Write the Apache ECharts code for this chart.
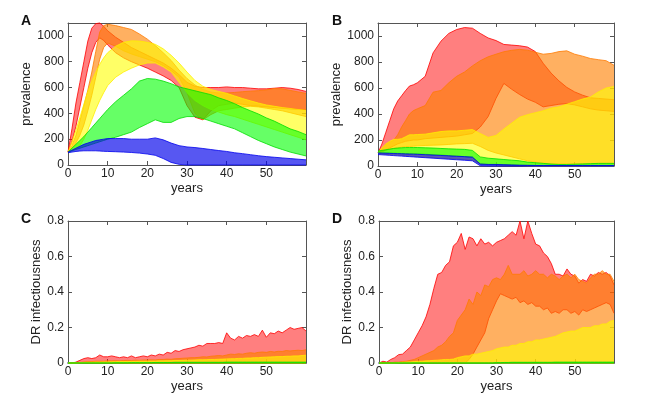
<!DOCTYPE html>
<html>
<head>
<meta charset="utf-8">
<title>prevalence and DR infectiousness</title>
<script src="https://cdn.jsdelivr.net/npm/echarts@6/dist/echarts.min.js"></script>
<style>body{margin:0;background:#fff}</style>
</head>
<body>
<div id="main" style="width:650px;height:398px;"></div>
<script>
// years used by panels A and B (finer at the start)
var yearsAB = [0,1,2,3,4,5,6,7,8,9,10, 12,14,16,18,20,22,24,26,28,30, 32,34,36,38,40, 42,44,46,48,50, 52,54,56,58,60];
// years used by panels C and D
var yearsCD = [];
for (var y = 0; y <= 60; y++) yearsCD.push(y);

// ---- panel A: prevalence bands (low / high)
var aRedHi = [100,280,480,640,800,960,1060,1095,1100,1075,1040, 990,950,910,880,850,820,790,750,700,640, 610,600,600,600,605, 600,600,595,590,590, 595,600,595,585,570];
var aRedLo = [100,180,300,450,600,750,870,950,985,965,930, 870,830,800,775,750,720,690,655,600,460, 370,350,420,460,470, 480,470,460,455,450, 445,440,435,430,430];
var aOrangeHi = [100,150,230,340,460,580,720,880,1030,1080,1090, 1080,1065,1050,1015,975,925,870,810,735,670, 620,585,565,558,558, 562,568,572,576,582, 592,590,578,566,555];
var aOrangeLo = [100,130,170,230,310,420,540,680,820,910,945, 920,885,860,840,820,800,770,730,680,560, 400,350,390,420,430, 440,450,455,450,440, 430,420,405,390,375];
var aYellowHi = [100,180,270,370,470,570,650,720,780,830,870, 920,950,962,960,950,935,900,850,790,720, 655,610,585,570,555, 535,515,497,480,465, 455,445,438,430,425];
var aYellowLo = [100,115,130,150,200,270,350,430,500,560,615, 680,720,750,775,790,790,760,720,640,560, 500,460,430,410,390, 375,355,335,315,295, 275,255,235,215,195];
var aGreenHi = [100,130,160,190,220,255,290,325,360,395,430, 490,540,590,650,670,665,650,630,605,590, 575,560,545,520,500, 475,445,420,395,365, 340,310,280,260,235];
var aGreenLo = [100,110,120,130,140,150,160,170,180,190,200, 215,235,255,290,320,350,330,330,360,375, 375,360,340,320,300, 280,250,220,190,165, 140,120,100,85,70];
var aBlueHi = [100,115,130,145,160,170,180,190,195,200,205, 205,205,200,200,200,210,195,170,150,140, 135,128,120,112,105, 95,88,80,72,65, 60,55,50,45,40];
var aBlueLo = [95,100,105,108,110,110,110,110,108,106,105, 103,100,97,92,85,75,50,20,5,0, 0,0,0,0,0, 0,0,0,0,0, 0,0,0,0,0];

// ---- panel B
var bRedHi = [100,170,260,350,440,500,540,580,615,625,640, 690,870,960,1020,1050,1065,1060,1020,985,965, 935,930,925,915,880, 790,715,655,605,570, 545,525,520,515,510];
var bRedLo = [100,110,125,140,155,170,180,190,195,200,200, 210,215,220,225,230,240,250,300,380,520, 635,590,550,515,490, 455,465,475,480,470, 455,440,430,425,420];
var bOrangeHi = [100,130,168,185,199,240,300,349,400,426,440, 465,568,581,640,690,723,770,810,840,860, 879,890,897,891,875, 860,866,880,886,860, 845,827,818,810,775];
var bOrangeLo = [100,110,120,130,135,140,145,150,150,152,155, 158,160,162,166,170,172,175,150,120,100, 85,70,55,40,30, 22,16,15,15,15, 16,18,20,20,20];
var bYellowHi = [100,140,170,190,205,205,210,225,240,240,242, 245,255,265,270,270,275,280,250,220,235, 285,330,375,395,410, 425,445,455,475,495, 515,530,570,600,612];
var bYellowLo = [95,92,90,88,86,84,82,80,78,76,74, 70,66,62,58,54,50,45,15,10,8, 6,5,4,3,2, 2,2,2,2,2, 2,2,2,2,2];
var bGreenHi = [115,120,125,130,135,138,140,142,142,142,142, 140,138,135,132,130,128,120,70,60,55, 50,45,40,30,25, 20,15,12,12,14, 16,18,20,20,20];
var bGreenLo = [100,100,100,99,98,97,96,95,94,93,92, 90,87,84,80,76,72,68,15,12,12, 10,8,6,5,4, 4,4,4,4,4, 4,4,4,4,4];
var bBlueHi = [100,99,98,97,96,95,94,93,92,91,90, 87,84,81,78,75,72,68,15,12,12, 10,8,6,5,4, 4,4,4,4,4, 4,4,4,4,4];
var bBlueLo = [88,86,84,82,80,78,76,74,72,70,68, 64,60,56,52,48,44,40,2,0,0, 0,0,0,0,0, 0,0,0,0,0, 0,0,0,0,0];

// ---- panel C: DR infectiousness
var cRedHi = [0,0,0.005,0.015,0.025,0.03,0.025,0.03,0.045,0.035,
  0.035,0.04,0.035,0.03,0.035,0.03,0.04,0.03,0.035,0.04,
  0.035,0.045,0.04,0.05,0.045,0.06,0.055,0.07,0.065,0.075,
  0.08,0.085,0.09,0.1,0.095,0.11,0.11,0.11,0.115,0.11,
  0.17,0.14,0.13,0.15,0.14,0.155,0.15,0.16,0.15,0.185,
  0.145,0.17,0.165,0.18,0.17,0.185,0.2,0.19,0.195,0.2,0.18];
var cOrangeHi = [0,0,0,0.003,0.006,0.008,0.008,0.01,0.01,0.01,
  0.012,0.012,0.013,0.012,0.014,0.015,0.014,0.016,0.015,0.017,
  0.017,0.018,0.017,0.02,0.02,0.022,0.021,0.024,0.025,0.027,
  0.028,0.03,0.03,0.032,0.035,0.034,0.038,0.04,0.042,0.04,
  0.045,0.05,0.048,0.052,0.05,0.055,0.058,0.055,0.06,0.062,
  0.06,0.065,0.062,0.066,0.065,0.07,0.068,0.07,0.072,0.07,0.075];
var cYellowHi = [0,0,0,0.002,0.003,0.004,0.004,0.005,0.005,0.006,
  0.006,0.007,0.007,0.008,0.008,0.008,0.009,0.009,0.01,0.01,
  0.01,0.011,0.011,0.012,0.012,0.013,0.013,0.014,0.014,0.015,
  0.016,0.016,0.017,0.018,0.018,0.019,0.02,0.02,0.021,0.022,
  0.023,0.024,0.024,0.026,0.026,0.028,0.028,0.03,0.03,0.032,
  0.033,0.034,0.035,0.036,0.036,0.038,0.038,0.04,0.04,0.042,0.044];
var cGreenHi = [0,0,0,0,0,0,0,0,0,0,
  0,0,0.001,0.001,0.001,0.001,0.002,0.002,0.002,0.002,
  0.002,0.002,0.003,0.003,0.003,0.003,0.003,0.004,0.004,0.004,
  0.004,0.004,0.004,0.004,0.004,0.004,0.004,0.004,0.004,0.004,
  0.005,0.005,0.005,0.005,0.005,0.005,0.005,0.005,0.005,0.005,
  0.005,0.005,0.005,0.005,0.005,0.005,0.005,0.005,0.005,0.005,0.005];

// ---- panel D
var dRedHi = [0,0.01,0.005,0.02,0.03,0.047,0.05,0.07,0.09,0.13,
  0.17,0.21,0.26,0.33,0.42,0.5,0.51,0.55,0.57,0.66,
  0.68,0.73,0.64,0.71,0.7,0.66,0.7,0.67,0.68,0.66,
  0.68,0.69,0.7,0.72,0.74,0.72,0.8,0.7,0.8,0.73,
  0.67,0.66,0.62,0.6,0.56,0.5,0.5,0.49,0.53,0.5,
  0.49,0.45,0.47,0.46,0.5,0.49,0.51,0.5,0.51,0.49,0.44];
var dRedLo = [0,0,0,0,0,0,0,0,0,0,
  0,0,0,0,0,0,0,0,0,0,
  0,0,0,0.02,0.05,0.09,0.13,0.17,0.25,0.3,
  0.35,0.39,0.38,0.37,0.36,0.37,0.34,0.35,0.33,0.34,
  0.32,0.32,0.3,0.31,0.28,0.29,0.28,0.3,0.3,0.28,
  0.29,0.27,0.3,0.29,0.3,0.31,0.32,0.33,0.34,0.33,0.28];
var dOrangeHi = [0,0,0,0,0.005,0.005,0.008,0.01,0.015,0.02,
  0.03,0.04,0.05,0.06,0.07,0.09,0.1,0.12,0.15,0.17,
  0.24,0.27,0.3,0.36,0.33,0.4,0.38,0.44,0.43,0.47,
  0.48,0.47,0.5,0.55,0.5,0.5,0.5,0.52,0.49,0.5,
  0.52,0.5,0.5,0.48,0.5,0.49,0.47,0.49,0.5,0.48,
  0.5,0.47,0.46,0.45,0.48,0.5,0.5,0.52,0.5,0.5,0.46];
var dYellowHi = [0,0,0,0,0,0.002,0.004,0.005,0.006,0.008,
  0.01,0.01,0.012,0.013,0.015,0.016,0.018,0.02,0.02,0.022,
  0.03,0.035,0.04,0.04,0.05,0.05,0.055,0.06,0.065,0.07,
  0.08,0.085,0.09,0.09,0.1,0.1,0.11,0.11,0.12,0.12,
  0.13,0.13,0.135,0.14,0.145,0.15,0.16,0.17,0.175,0.18,
  0.18,0.19,0.2,0.2,0.2,0.21,0.21,0.22,0.22,0.235,0.24];
var dGreenHi = [0,0,0,0,0,0,0,0,0,0,
  0,0,0,0,0,0,0,0,0,0,
  0,0,0,0,0,0,0,0,0,0,
  0.002,0.002,0.003,0.003,0.004,0.004,0.004,0.004,0.004,0.004,
  0.004,0.004,0.004,0.004,0.004,0.005,0.005,0.005,0.005,0.005,
  0.005,0.005,0.005,0.005,0.005,0.005,0.005,0.005,0.005,0.005,0.005];

var xTicks = [0, 10, 20, 30, 40, 50];

var myChart = echarts.init(document.getElementById('main'));
var FONT = 'Liberation Sans, Arial, Helvetica, sans-serif';

var COL = {
  red:    {line: '#ff0000', fill: 'rgba(255,0,0,0.5)'},
  orange: {line: '#ff7a00', fill: 'rgba(255,128,0,0.62)'},
  yellow: {line: '#ffee00', fill: 'rgba(255,255,0,0.6)'},
  green:  {line: '#00dd00', fill: 'rgba(0,255,0,0.6)'},
  blue:   {line: '#0000ee', fill: 'rgba(0,0,235,0.66)'}
};

// filled band between lo and hi, drawn through the axes of grid g
function band(g, xs, lo, hi, c) {
  if (!lo) lo = xs.map(function () { return 0; });
  return {
    type: 'custom', xAxisIndex: g, yAxisIndex: g, silent: true,
    data: [[xs[0], lo[0]]],
    renderItem: function (params, api) {
      var top = xs.map(function (x, i) { return api.coord([x, hi[i]]); });
      var bot = xs.map(function (x, i) { return api.coord([x, lo[i]]); });
      return {type: 'group', children: [
        {type: 'polygon', shape: {points: top.concat(bot.slice().reverse())},
         style: {fill: c.fill, stroke: null}},
        {type: 'polyline', shape: {points: bot}, style: {stroke: c.line, lineWidth: 0.8, fill: null}},
        {type: 'polyline', shape: {points: top}, style: {stroke: c.line, lineWidth: 0.8, fill: null}}
      ]};
    }
  };
}

var grids = [
  {left: 68, top: 23, width: 238, height: 142},
  {left: 378, top: 23, width: 236, height: 143},
  {left: 68, top: 221, width: 238, height: 142},
  {left: 379, top: 221, width: 235, height: 142}
];
var yCfg = [
  {max: 1100, interval: 200, name: 'prevalence', gap: 30},
  {max: 1100, interval: 200, name: 'prevalence', gap: 30},
  {max: 0.8, interval: 0.2, name: 'DR infectiousness', gap: 20},
  {max: 0.8, interval: 0.2, name: 'DR infectiousness', gap: 21}
];

var axLine = {onZero: false, lineStyle: {color: '#555', width: 1}};
var tick = {inside: true, length: 4, lineStyle: {color: '#555'}};
var txt = {color: '#222', fontSize: 12, fontFamily: FONT};
var xAxes = [], yAxes = [];
grids.forEach(function (gr, g) {
  xAxes.push({type: 'value', gridIndex: g, position: 'bottom', min: 0, max: 60, interval: 10,
    name: 'years', nameLocation: 'middle', nameGap: 17,
    nameTextStyle: {color: '#222', fontSize: 13, fontFamily: FONT},
    axisLine: g >= 2 ? {onZero: false, lineStyle: {color: '#1c2566', width: 1.5}} : axLine,
    axisTick: tick,
    axisLabel: Object.assign({margin: 3, formatter: function (v) { return xTicks.indexOf(v) >= 0 ? v : ''; }}, txt),
    splitLine: {show: false}});
  yAxes.push({type: 'value', gridIndex: g, position: 'left', min: 0, max: yCfg[g].max, interval: yCfg[g].interval,
    name: yCfg[g].name, nameLocation: 'middle', nameGap: yCfg[g].gap,
    nameTextStyle: {color: '#222', fontSize: 13, fontFamily: FONT},
    axisLine: axLine, axisTick: tick,
    axisLabel: Object.assign({margin: 4, formatter: function (v) {
      if (v > 1000) return '';
      if (v === 0) return '0';
      return v < 1 ? v.toFixed(1) : String(v);
    }}, txt),
    splitLine: {show: false}});
});
grids.forEach(function (gr, g) {
  xAxes.push({type: 'value', gridIndex: g, position: 'top', min: 0, max: 60, interval: 10,
    axisLine: axLine, axisTick: tick, axisLabel: {show: false}, splitLine: {show: false}});
  yAxes.push({type: 'value', gridIndex: g, position: 'right', min: 0, max: yCfg[g].max, interval: yCfg[g].interval,
    axisLine: axLine, axisTick: tick, axisLabel: {show: false}, splitLine: {show: false}});
});

var series = [
  band(0, yearsAB, aRedLo, aRedHi, COL.red),
  band(0, yearsAB, aOrangeLo, aOrangeHi, COL.orange),
  band(0, yearsAB, aYellowLo, aYellowHi, COL.yellow),
  band(0, yearsAB, aGreenLo, aGreenHi, COL.green),
  band(0, yearsAB, aBlueLo, aBlueHi, COL.blue),

  band(1, yearsAB, bRedLo, bRedHi, COL.red),
  band(1, yearsAB, bOrangeLo, bOrangeHi, COL.orange),
  band(1, yearsAB, bYellowLo, bYellowHi, COL.yellow),
  band(1, yearsAB, bGreenLo, bGreenHi, COL.green),
  band(1, yearsAB, bBlueLo, bBlueHi, COL.blue),

  band(2, yearsCD, null, cRedHi, COL.red),
  band(2, yearsCD, null, cOrangeHi, COL.orange),
  band(2, yearsCD, null, cYellowHi, COL.yellow),
  band(2, yearsCD, null, cGreenHi, COL.green),

  band(3, yearsCD, dRedLo, dRedHi, COL.red),
  band(3, yearsCD, null, dOrangeHi, COL.orange),
  band(3, yearsCD, null, dYellowHi, COL.yellow),
  band(3, yearsCD, null, dGreenHi, COL.green)
];

var letters = [['A', 21, 14], ['B', 332, 14], ['C', 21, 212], ['D', 332, 212]];

var option = {
  animation: false,
  backgroundColor: '#fff',
  grid: grids,
  xAxis: xAxes,
  yAxis: yAxes,
  series: series,
  graphic: letters.map(function (l) {
    return {type: 'text', left: l[1], top: l[2],
      style: {text: l[0], fill: '#111', font: 'bold 14px ' + FONT}};
  })
};
myChart.setOption(option);
</script>
</body>
</html>
